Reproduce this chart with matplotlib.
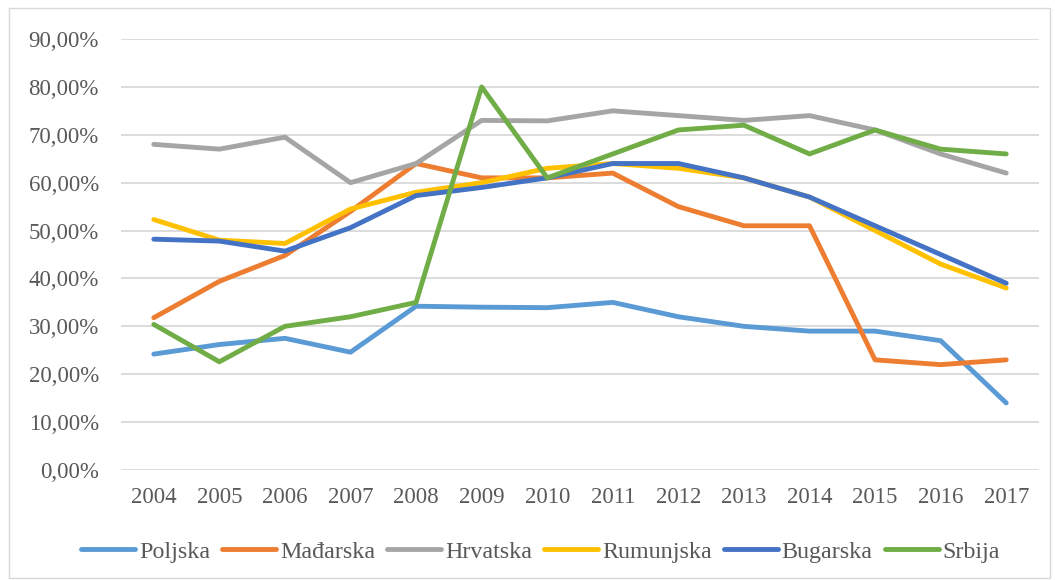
"""
Line chart by country, 2004-2017
"""

import numpy as np
import matplotlib.pyplot as plt
import matplotlib
from matplotlib.patches import Rectangle
from matplotlib.ticker import FuncFormatter

years = [2004, 2005, 2006, 2007, 2008, 2009, 2010, 2011, 2012, 2013, 2014, 2015, 2016, 2017]

poljska = [24.2, 26.2, 27.5, 24.6, 34.2, 34.0, 33.9, 35.0, 32.0, 30.0, 29.0, 29.0, 27.0, 14.0]
madjarska = [31.8, 39.4, 44.8, 54.0, 64.0, 61.0, 61.0, 62.0, 55.0, 51.0, 51.0, 23.0, 22.0, 23.0]
hrvatska = [68.0, 67.0, 69.5, 60.0, 64.0, 73.0, 72.9, 75.0, 74.0, 73.0, 74.0, 71.0, 66.0, 62.0]
rumunjska = [52.3, 48.0, 47.3, 54.5, 58.0, 60.0, 63.0, 64.0, 63.0, 61.0, 57.0, 50.0, 43.0, 38.0]
bugarska = [48.2, 47.8, 45.7, 50.6, 57.3, 59.0, 61.0, 64.0, 64.0, 61.0, 57.0, 51.0, 45.0, 39.0]
srbija = [30.4, 22.6, 30.0, 32.0, 35.0, 80.0, 61.0, 66.0, 71.0, 72.0, 66.0, 71.0, 67.0, 66.0]

names = ["Poljska", "Mađarska", "Hrvatska", "Rumunjska", "Bugarska", "Srbija"]
colors = ["#5B9BD5", "#ED7D31", "#A5A5A5", "#FFC000", "#4472C4", "#70AD47"]
series = [poljska, madjarska, hrvatska, rumunjska, bugarska, srbija]

matplotlib.rcParams.update({'font.family': 'Liberation Serif', 'font.size': 16.5})
text_col = "#595959"

fig = plt.figure(figsize=(10.55, 5.8), dpi=100)
ax = fig.add_axes([121/1055, 1 - 470/580, 918/1055, 431/580])

x = np.arange(len(years))
for vals, name, col in zip(series, names, colors):
    ax.plot(x, vals, color=col, linewidth=3.5, label=name, solid_capstyle='round', solid_joinstyle='round')

ax.set_xlim(-0.5, len(years) - 0.5)
ax.set_ylim(0, 90)
ax.set_yticks(np.arange(0, 91, 10))
ax.yaxis.set_major_formatter(FuncFormatter(lambda v, p: f"{v:.2f}%".replace(".", ",")))
ax.set_xticks(x)
ax.set_xticklabels([str(y) for y in years])
ax.grid(axis='y', color="#D9D9D9", linewidth=1.3)
ax.set_axisbelow(True)
for s in ax.spines.values():
    s.set_visible(False)
ax.tick_params(length=0, colors=text_col, labelsize=16.5)
ax.tick_params(axis='y', pad=16)
ax.tick_params(axis='x', pad=12)

leg = ax.legend(loc='center', bbox_to_anchor=(0.457, -0.19), ncol=6, frameon=False,
                handlelength=2.26, columnspacing=0.5, handletextpad=0.15, fontsize=17.3)
for t in leg.get_texts():
    t.set_color(text_col)
for l in leg.get_lines():
    l.set_linewidth(3.5)

fig.add_artist(Rectangle((9/1055, 2/580), 1041/1055, 570/580, transform=fig.transFigure,
                         fill=False, edgecolor="#D9D9D9", linewidth=1))

plt.savefig("out.png", dpi=100)
